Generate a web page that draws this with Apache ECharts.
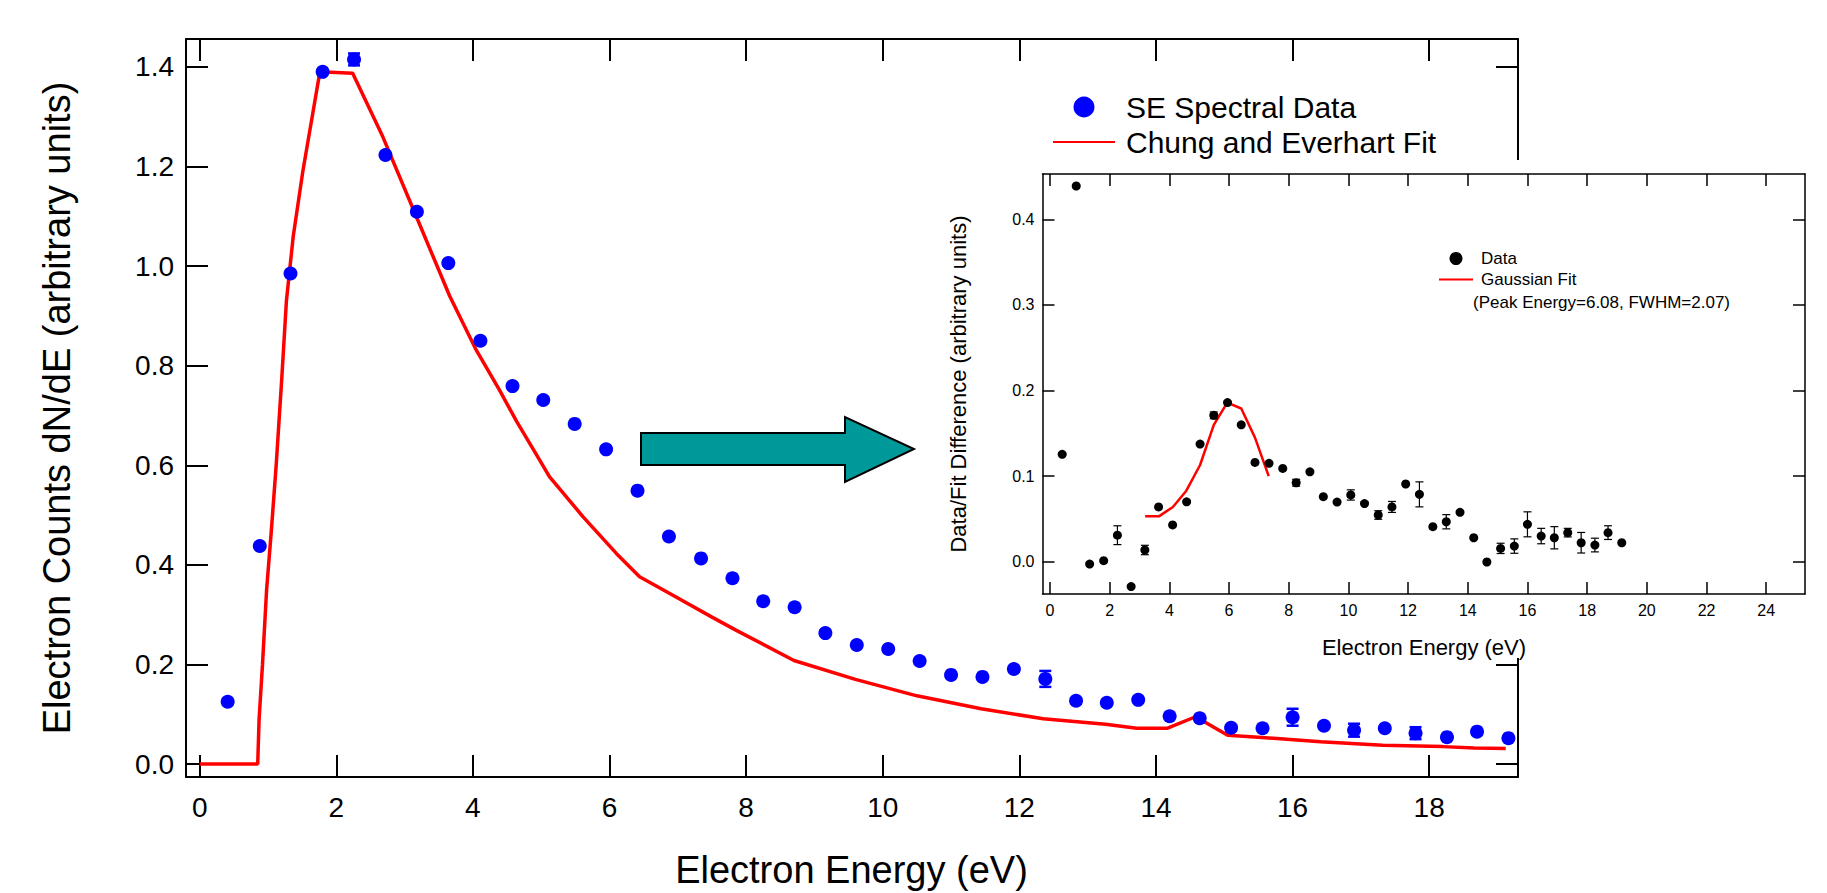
<!DOCTYPE html>
<html>
<head>
<meta charset="utf-8">
<title>SE spectrum</title>
<script src="https://cdn.jsdelivr.net/npm/echarts@6/dist/echarts.min.js"></script>
<style>
  html, body { margin: 0; padding: 0; background: #fff; }
  #chart { width: 1827px; height: 893px; }
</style>
</head>
<body>
<div id="chart"></div>
<script>
  var FONT = "'Liberation Sans', Arial, sans-serif";

  // electron energy of each measured point (eV), shared by both panels
  var energies = [0.41, 0.88, 1.33, 1.80, 2.26, 2.72, 3.18, 3.64, 4.11, 4.58, 5.03, 5.49, 5.95, 6.41,
    6.87, 7.34, 7.80, 8.25, 8.71, 9.16, 9.62, 10.08, 10.54, 11.00, 11.46, 11.92, 12.38, 12.83,
    13.28, 13.74, 14.20, 14.64, 15.10, 15.56, 16.00, 16.46, 16.90, 17.35, 17.80, 18.26, 18.70, 19.16];

  // main panel: SE spectral data dN/dE
  var seCounts = [0.125, 0.438, 0.985, 1.390, 1.415, 1.223, 1.109, 1.006, 0.850, 0.759, 0.731, 0.683,
    0.632, 0.549, 0.457, 0.413, 0.373, 0.327, 0.315, 0.263, 0.239, 0.231, 0.207, 0.179, 0.175, 0.191,
    0.171, 0.127, 0.123, 0.129, 0.096, 0.092, 0.073, 0.072, 0.094, 0.077, 0.068, 0.072, 0.062, 0.054,
    0.065, 0.052];
  var seErr = [0, 0, 0, 0, 0.012, 0, 0, 0, 0, 0, 0, 0, 0, 0, 0, 0, 0, 0, 0, 0, 0, 0, 0, 0, 0, 0,
    0.016, 0, 0, 0, 0, 0, 0, 0, 0.017, 0, 0.013, 0, 0.012, 0, 0, 0];

  // Chung and Everhart fit
  var fitEnergy = [0, 0.85, 0.87, 0.92, 0.98, 1.05, 1.12, 1.20, 1.27, 1.37, 1.51, 1.66, 1.76, 2.24,
    2.68, 3.17, 3.66, 4.05, 4.39, 4.64, 4.98, 5.12, 5.61, 6.10, 6.44, 6.98, 7.50, 7.85, 8.70, 9.60,
    10.50, 11.44, 12.35, 13.26, 13.72, 14.17, 14.58, 15.05, 15.50, 16.41, 17.32, 18.20, 18.66, 19.12];
  var fitCounts = [0, 0, 0.09, 0.20, 0.35, 0.47, 0.60, 0.77, 0.93, 1.06, 1.19, 1.31, 1.39, 1.387,
    1.26, 1.10, 0.94, 0.831, 0.751, 0.688, 0.610, 0.577, 0.497, 0.423, 0.376, 0.335, 0.295, 0.269,
    0.208, 0.170, 0.137, 0.111, 0.091, 0.080, 0.072, 0.072, 0.095, 0.058, 0.054, 0.045, 0.038,
    0.035, 0.032, 0.031];

  // inset: data/fit difference
  var diffValues = [0.1255, 0.439, -0.0027, 0.0012, 0.031, -0.029, 0.0137, 0.064, 0.043, 0.070,
    0.1375, 0.171, 0.186, 0.160, 0.116, 0.115, 0.109, 0.0923, 0.105, 0.076, 0.0697, 0.078, 0.068,
    0.0546, 0.064, 0.0908, 0.0787, 0.041, 0.0467, 0.0577, 0.028, -0.0003, 0.0156, 0.0183, 0.0437,
    0.030, 0.028, 0.034, 0.0222, 0.0195, 0.034, 0.0222];
  var diffErr = [0, 0, 0, 0, 0.011, 0, 0.0055, 0, 0, 0, 0, 0.004, 0, 0, 0, 0, 0, 0.004, 0, 0, 0,
    0.006, 0, 0.005, 0.0064, 0, 0.0146, 0, 0.0083, 0, 0, 0, 0.006, 0.0084, 0.0146, 0.009, 0.013,
    0.005, 0.012, 0.008, 0.008, 0];

  // Gaussian fit of the difference peak
  var gaussEnergy = [3.19, 3.65, 4.12, 4.57, 5.03, 5.49, 5.94, 6.41, 6.87, 7.33];
  var gaussValues = [0.053, 0.053, 0.064, 0.083, 0.113, 0.160, 0.186, 0.179, 0.145, 0.100];

  // tick labels
  var mainXTicks = [0, 2, 4, 6, 8, 10, 12, 14, 16, 18];
  var mainYTicks = [0, 0.2, 0.4, 0.6, 0.8, 1.0, 1.2, 1.4];
  var insetXTicks = [0, 2, 4, 6, 8, 10, 12, 14, 16, 18, 20, 22, 24];
  var insetYTicks = [0, 0.1, 0.2, 0.3, 0.4];

  function pairs(xs, ys) {
    return xs.map(function (x, i) { return [x, ys[i]]; });
  }
  function errRows(xs, ys, es) {
    var rows = [];
    xs.forEach(function (x, i) {
      if (es[i] > 0) rows.push([x, ys[i] - es[i], ys[i] + es[i]]);
    });
    return rows;
  }
  function errorBars(capHalf, color, width) {
    return function (params, api) {
      var a = api.coord([api.value(0), api.value(1)]);
      var b = api.coord([api.value(0), api.value(2)]);
      var style = { stroke: color, lineWidth: width };
      return {
        type: 'group',
        children: [
          { type: 'line', shape: { x1: a[0], y1: a[1], x2: b[0], y2: b[1] }, style: style },
          { type: 'line', shape: { x1: a[0] - capHalf, y1: a[1], x2: a[0] + capHalf, y2: a[1] }, style: style },
          { type: 'line', shape: { x1: b[0] - capHalf, y1: b[1], x2: b[0] + capHalf, y2: b[1] }, style: style }
        ]
      };
    };
  }

  function frameAxis(opt) {
    // one side of a boxed frame with inward ticks
    return Object.assign({
      type: 'value',
      z: opt.z || 0,
      axisLine: { show: true, onZero: false, lineStyle: { color: '#000', width: opt.lw } },
      axisTick: { show: true, inside: true, length: opt.tick, customValues: opt.ticks,
        lineStyle: { color: '#000', width: opt.lw } },
      axisLabel: opt.labels ? {
        show: true, customValues: opt.ticks, fontSize: opt.fs, fontFamily: FONT, color: '#000',
        margin: opt.margin, formatter: opt.fmt
      } : { show: false },
      splitLine: { show: false }
    }, opt.base);
  }

  var chart = echarts.init(document.getElementById('chart'), null, { renderer: 'svg' });

  chart.setOption({
    animation: false,
    backgroundColor: '#fff',
    grid: [
      { left: 186, top: 39, width: 1332, height: 738 },
      { left: 1042.5, top: 174, width: 762.5, height: 420, z: 20 }
    ],
    xAxis: [
      frameAxis({ base: { gridIndex: 0, position: 'bottom', min: -0.2, max: 19.3 }, lw: 2, tick: 22,
        ticks: mainXTicks, labels: true, fs: 28, margin: 16, fmt: function (v) { return String(v); } }),
      frameAxis({ base: { gridIndex: 0, position: 'top', min: -0.2, max: 19.3 }, lw: 2, tick: 22,
        ticks: mainXTicks }),
      frameAxis({ base: { gridIndex: 1, position: 'bottom', min: -0.25, max: 25.3 }, lw: 1.5, tick: 12,
        ticks: insetXTicks, labels: true, fs: 16, margin: 8, z: 20,
        fmt: function (v) { return String(v); } }),
      frameAxis({ base: { gridIndex: 1, position: 'top', min: -0.25, max: 25.3 }, lw: 1.5, tick: 12,
        ticks: insetXTicks, z: 20 })
    ],
    yAxis: [
      frameAxis({ base: { gridIndex: 0, position: 'left', min: -0.026, max: 1.456 }, lw: 2, tick: 22,
        ticks: mainYTicks, labels: true, fs: 28, margin: 12, fmt: function (v) { return v.toFixed(1); } }),
      frameAxis({ base: { gridIndex: 0, position: 'right', min: -0.026, max: 1.456 }, lw: 2, tick: 22,
        ticks: mainYTicks }),
      frameAxis({ base: { gridIndex: 1, position: 'left', min: -0.0377, max: 0.453 }, lw: 1.5, tick: 12,
        ticks: insetYTicks, labels: true, fs: 16, margin: 8, z: 20,
        fmt: function (v) { return v.toFixed(1); } }),
      frameAxis({ base: { gridIndex: 1, position: 'right', min: -0.0377, max: 0.453 }, lw: 1.5, tick: 12,
        ticks: insetYTicks, z: 20 })
    ],
    legend: [
      {
        // the line entry hides the dot ECharts puts on a line legend icon
        data: ['SE Spectral Data', { name: 'Chung and Everhart Fit', itemStyle: { opacity: 0 } }],
        orient: 'vertical', left: 1052, top: 92, padding: 0,
        itemWidth: 62, itemHeight: 21, itemGap: 5, selectedMode: false,
        textStyle: { fontSize: 30, lineHeight: 30, fontFamily: FONT, color: '#000', padding: [0, 0, 0, 6] }
      },
      {
        data: ['Data', { name: 'Gaussian Fit', itemStyle: { opacity: 0 } }],
        orient: 'vertical', left: 1438, top: 250, padding: 0, z: 30,
        itemWidth: 34, itemHeight: 13, itemGap: 4, selectedMode: false,
        textStyle: { fontSize: 17, lineHeight: 17, fontFamily: FONT, color: '#000', padding: [0, 0, 0, 3] }
      }
    ],
    graphic: [
      // white panel behind the inset
      { type: 'rect', z: 10, shape: { x: 935, y: 160, width: 892, height: 498 },
        style: { fill: '#fff' } },
      // teal arrow
      { type: 'polygon', z: 12,
        shape: { points: [[641, 433], [845, 433], [845, 417], [914, 449], [845, 482], [845, 465], [641, 465]] },
        style: { fill: '#009999', stroke: '#000', lineWidth: 2 } },
      { type: 'text', z: 12, x: 57, y: 408, rotation: Math.PI / 2,
        style: { text: 'Electron Counts dN/dE (arbitrary units)', fontSize: 38, fontFamily: FONT,
          fill: '#000', align: 'center', verticalAlign: 'middle' } },
      { type: 'text', z: 12, x: 851.5, y: 870,
        style: { text: 'Electron Energy (eV)', fontSize: 38, fontFamily: FONT,
          fill: '#000', align: 'center', verticalAlign: 'middle' } },
      { type: 'text', z: 30, x: 958, y: 384, rotation: Math.PI / 2,
        style: { text: 'Data/Fit Difference (arbitrary units)', fontSize: 22, fontFamily: FONT,
          fill: '#000', align: 'center', verticalAlign: 'middle' } },
      { type: 'text', z: 30, x: 1424, y: 647,
        style: { text: 'Electron Energy (eV)', fontSize: 22, fontFamily: FONT,
          fill: '#000', align: 'center', verticalAlign: 'middle' } },
      { type: 'text', z: 30, x: 1473, y: 302,
        style: { text: '(Peak Energy=6.08, FWHM=2.07)', fontSize: 17, fontFamily: FONT,
          fill: '#000', align: 'left', verticalAlign: 'middle' } }
    ],
    series: [
      {
        name: 'Chung and Everhart Fit', type: 'line', xAxisIndex: 0, yAxisIndex: 0,
        data: pairs(fitEnergy, fitCounts), symbol: 'none', z: 3,
        lineStyle: { color: '#ff0000', width: 3.5 }, itemStyle: { color: '#ff0000' }
      },
      {
        name: 'SE error', type: 'custom', xAxisIndex: 0, yAxisIndex: 0, z: 4,
        data: errRows(energies, seCounts, seErr), encode: { x: 0, y: [1, 2] },
        renderItem: errorBars(6, '#0000ff', 2.5)
      },
      {
        name: 'SE Spectral Data', type: 'scatter', xAxisIndex: 0, yAxisIndex: 0, z: 5,
        data: pairs(energies, seCounts), symbol: 'circle', symbolSize: 14,
        itemStyle: { color: '#0000ff', opacity: 1 }
      },
      {
        name: 'Gaussian Fit', type: 'line', xAxisIndex: 2, yAxisIndex: 2, z: 24,
        data: pairs(gaussEnergy, gaussValues), symbol: 'none',
        lineStyle: { color: '#ff0000', width: 2.5 }, itemStyle: { color: '#ff0000' }
      },
      {
        name: 'Data error', type: 'custom', xAxisIndex: 2, yAxisIndex: 2, z: 25,
        data: errRows(energies, diffValues, diffErr), encode: { x: 0, y: [1, 2] },
        renderItem: errorBars(4, '#000', 1.2)
      },
      {
        name: 'Data', type: 'scatter', xAxisIndex: 2, yAxisIndex: 2, z: 26,
        data: pairs(energies, diffValues), symbol: 'circle', symbolSize: 9,
        itemStyle: { color: '#000', opacity: 1 }
      }
    ]
  });
</script>
</body>
</html>
